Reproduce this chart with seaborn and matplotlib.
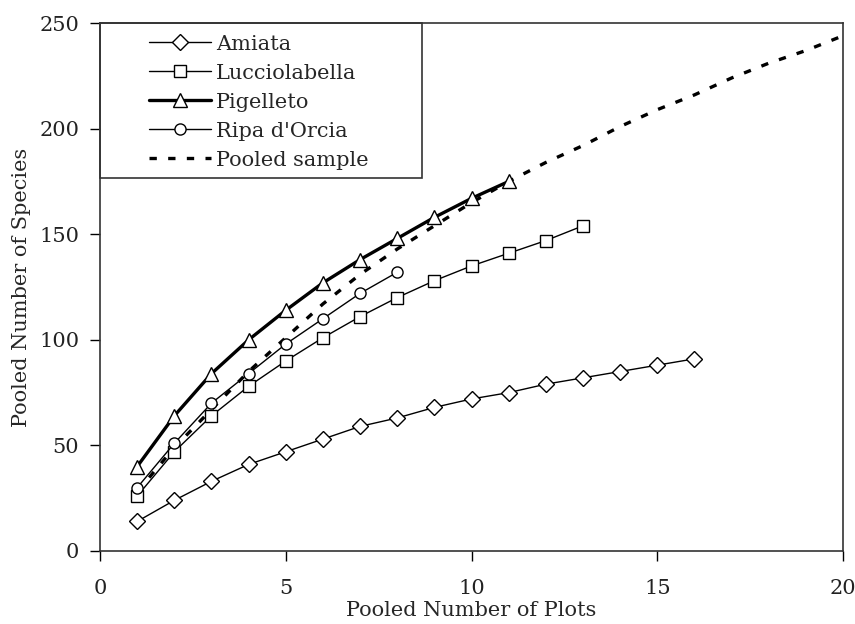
import matplotlib
matplotlib.use("Agg")
import matplotlib.pyplot as plt
import seaborn as sns
import pandas as pd
from matplotlib.patches import Rectangle

# ---- data ----
amiata_x = list(range(1, 17))
amiata_y = [14, 24, 33, 41, 47, 53, 59, 63, 68, 72, 75, 79, 82, 85, 88, 91]

luccio_x = list(range(1, 14))
luccio_y = [26, 47, 64, 78, 90, 101, 111, 120, 128, 135, 141, 147, 154]

pigelleto_x = list(range(1, 12))
pigelleto_y = [40, 64, 84, 100, 114, 127, 138, 148, 158, 167, 175]

ripa_x = list(range(1, 9))
ripa_y = [30, 51, 70, 84, 98, 110, 122, 132]

pooled_x = list(range(1, 21))
pooled_y = [28, 49, 67, 85, 101, 117, 131, 143, 154, 165,
            175, 184, 192, 201, 209, 216, 224, 231, 237, 244]

series_names = ["Amiata", "Lucciolabella", "Pigelleto", "Ripa d'Orcia", "Pooled sample"]
x_ticks = [0, 5, 10, 15, 20]
y_ticks = [0, 50, 100, 150, 200, 250]

frames = []
for name, xs, ys in zip(series_names,
                        [amiata_x, luccio_x, pigelleto_x, ripa_x, pooled_x],
                        [amiata_y, luccio_y, pigelleto_y, ripa_y, pooled_y]):
    frames.append(pd.DataFrame({"plots": xs, "species": ys, "site": name}))
df = pd.concat(frames, ignore_index=True)

sns.set_theme(style="ticks")
plt.rcParams["font.family"] = ["DejaVu Serif"]

fig, ax = plt.subplots(figsize=(8.55, 6.24), dpi=100)
fig.subplots_adjust(left=0.117, right=0.986, bottom=0.117, top=0.963)

styles = {
    "Amiata": dict(marker="D", markersize=8.5, linewidth=1.0),
    "Lucciolabella": dict(marker="s", markersize=8.5, linewidth=1.0),
    "Pigelleto": dict(marker="^", markersize=9.5, linewidth=2.4),
    "Ripa d'Orcia": dict(marker="o", markersize=8.0, linewidth=1.0),
}

# pooled sample first (underneath)
sub = df[df["site"] == "Pooled sample"]
sns.lineplot(data=sub, x="plots", y="species", ax=ax, color="black",
             linewidth=2.4, linestyle=(0, (2.2, 3.4)), label="Pooled sample",
             zorder=2)

for name in series_names[:4]:
    sub = df[df["site"] == name]
    st = styles[name]
    sns.lineplot(data=sub, x="plots", y="species", ax=ax, color="black",
                 marker=st["marker"], markersize=st["markersize"],
                 markerfacecolor="white", markeredgecolor="black",
                 markeredgewidth=1.0, linewidth=st["linewidth"],
                 label=name, zorder=3)

ax.set_xlim(0, 20)
ax.set_ylim(0, 250)
ax.set_xticks(x_ticks)
ax.set_yticks(y_ticks)
ax.set_xlabel("Pooled Number of Plots", fontsize=15, labelpad=2)
ax.set_ylabel("Pooled Number of Species", fontsize=15, labelpad=6)
ax.tick_params(axis="both", direction="out", length=7, width=1,
               color="black", labelsize=15, labelcolor="#222222")
ax.tick_params(axis="x", pad=13)
ax.tick_params(axis="y", pad=8)
for sp in ax.spines.values():
    sp.set_color("#333333")
    sp.set_linewidth(1.2)

handles, labels = ax.get_legend_handles_labels()
order = [labels.index(n) for n in series_names]
leg = ax.legend([handles[i] for i in order], [labels[i] for i in order],
                loc="upper left", bbox_to_anchor=(0.05, 1.0),
                frameon=False, fontsize=15, handlelength=3.0,
                handletextpad=0.25, labelspacing=0.48, borderpad=0.05)

ax.add_patch(Rectangle((0, 0.706), 0.433, 0.294, transform=ax.transAxes,
                       fill=False, edgecolor="#333333", linewidth=1.2,
                       zorder=5, clip_on=False))

fig.savefig("out.png", dpi=100)
